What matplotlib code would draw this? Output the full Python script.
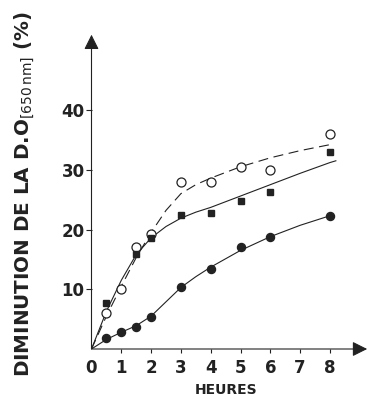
import matplotlib
matplotlib.use("Agg")
import matplotlib.pyplot as plt

# ---- data ----
hours_pts = [0.5, 1, 1.5, 2, 3, 4, 5, 6, 8]
open_circles = [6, 10, 17, 19.2, 28, 28, 30.5, 30, 36]
filled_squares = [7.7, 15.9, 18.5, 22.5, 22.8, 24.7, 26.3, 33]
squares_hours = [0.5, 1.5, 2, 3, 4, 5, 6, 8]
filled_circles = [1.8, 2.8, 3.7, 5.4, 10.4, 13.4, 17.0, 18.7, 22.3]

# fitted curves
curve_x = [0, 0.5, 1, 1.5, 2, 2.5, 3, 3.5, 4, 5, 6, 7, 8]
curve_open = [0, 5.5, 10.5, 15.3, 19.5, 23.2, 26.0, 27.5, 28.6, 30.5, 32.0, 33.2, 34.2]
curve_squares = [0, 6.3, 11.5, 15.8, 18.6, 20.5, 21.9, 22.9, 23.7, 25.6, 27.5, 29.4, 31.2]
curve_filled = [0, 1.6, 2.8, 3.9, 5.5, 7.9, 10.3, 12.1, 13.7, 16.5, 18.8, 20.7, 22.3]

x_ticks = [0, 1, 2, 3, 4, 5, 6, 7, 8]
x_ticklabels = ["0", "1", "2", "3", "4", "5", "6", "7", "8"]
y_ticks = [10, 20, 30, 40]
y_ticklabels = ["10", "20", "30", "40"]

FONT = "DejaVu Sans"
plt.rcParams["font.family"] = [FONT]
plt.rcParams["mathtext.fontset"] = "custom"
plt.rcParams["mathtext.rm"] = FONT
plt.rcParams["mathtext.bf"] = FONT + ":bold"

W, H = 367, 399
fig = plt.figure(figsize=(W / 100, H / 100), dpi=100)
fig.patch.set_facecolor("white")

x0_px, y0_px = 91.5, 349
px_per_h, px_per_u = 29.8, 5.975
xmax, ymax = 9.3, 53
ax = fig.add_axes([x0_px / W, (H - y0_px) / H, xmax * px_per_h / W, ymax * px_per_u / H])
ax.set_xlim(0, xmax)
ax.set_ylim(0, ymax)
for s in ax.spines.values():
    s.set_visible(False)

col = "#222222"
# curves
ax.plot(curve_x, curve_open, color=col, lw=0.8, dashes=(9, 5))
ax.plot(curve_x + [8.2], curve_squares + [31.5], color=col, lw=0.8)
ax.plot(curve_x, curve_filled, color=col, lw=0.8)

# points
ax.plot(hours_pts, open_circles, "o", ms=6.5, mfc="white", mec=col, mew=0.9, clip_on=False, zorder=5)
ax.plot(squares_hours, filled_squares, "s", ms=4.2, mfc=col, mec=col, clip_on=False, zorder=5)
ax.plot(hours_pts, filled_circles, "o", ms=5.8, mfc=col, mec=col, clip_on=False, zorder=5)

# axes with arrows
ax.annotate("", xy=(9.25, 0), xytext=(0, 0), xycoords="data",
            arrowprops=dict(arrowstyle="-|>,head_length=0.9,head_width=0.45", color=col, lw=0.8,
                            shrinkA=0, shrinkB=0), annotation_clip=False)
ax.annotate("", xy=(0, 52.6), xytext=(0, 0), xycoords="data",
            arrowprops=dict(arrowstyle="-|>,head_length=0.9,head_width=0.45", color=col, lw=0.8,
                            shrinkA=0, shrinkB=0), annotation_clip=False)

ax.set_xticks(x_ticks)
ax.set_xticklabels(x_ticklabels, fontsize=12, fontweight="bold", color=col)
ax.set_yticks(y_ticks)
ax.set_yticklabels(y_ticklabels, fontsize=12, fontweight="bold", color=col)
ax.tick_params(axis="x", direction="out", length=3, width=0.8, pad=4, colors=col)
ax.tick_params(axis="y", direction="out", length=4, width=0.8, pad=1, colors=col)
ax.xaxis.get_major_ticks()[0].tick1line.set_visible(False)

fig.text(226 / W, 1 - 390 / H, "HEURES", ha="center", va="center",
         fontsize=10, fontweight="bold", color=col)
fig.text(25 / W, 1 - 194 / H,
         r"DIMINUTION DE LA D.O$_{\mathrm{[650\,nm]}}$ (%)",
         rotation=90, ha="center", va="center", fontsize=14.3, fontweight="bold", color=col)

fig.savefig("out.png", dpi=100, facecolor="white")
